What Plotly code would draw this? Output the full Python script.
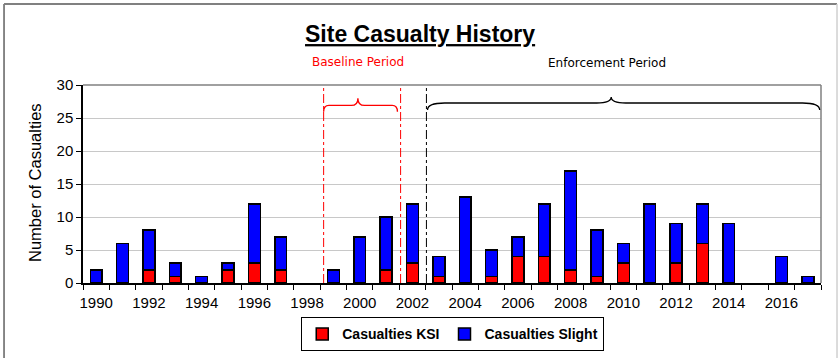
import plotly.graph_objects as go

# Casualty counts per year
years = list(range(1990, 2018))
ksi = [0, 0, 2, 1, 0, 2, 3, 2, 0, 0, 0, 2, 3, 1, 0, 1, 4, 4, 2, 1, 3, 0, 3, 6, 0, 0, 0, 0]
slight = [2, 6, 6, 2, 1, 1, 9, 5, 0, 2, 7, 8, 9, 3, 13, 4, 3, 8, 15, 7, 3, 12, 6, 6, 9, 0, 4, 1]
tick_years = list(range(1990, 2017, 2))
y_ticks = [0, 5, 10, 15, 20, 25, 30]

# Period markers (year positions on the x axis)
baseline_start = 1998.63
baseline_end = 2001.55
enforcement_start = 2002.53

ARIAL = "Liberation Sans, Arial, sans-serif"
VERD = "DejaVu Sans, Verdana, sans-serif"

series = [("Casualties KSI", ksi, "#FF0000"), ("Casualties Slight", slight, "#0000FF")]

fig = go.Figure()
for name, vals, color in series:
    # no outline on empty segments so they leave no stub on the axis
    widths = [1.5 if v > 0 else 0 for v in vals]
    fig.add_trace(go.Bar(
        x=years, y=vals, name=name, width=0.45, showlegend=False, legendgroup=name,
        marker=dict(color=color, line=dict(color="black", width=widths)),
    ))
for name, vals, color in series:
    # legend entries with outlined swatches
    fig.add_trace(go.Bar(
        x=[None], y=[None], name=name, legendgroup=name, showlegend=True,
        marker=dict(color=color, line=dict(color="black", width=1.5)),
    ))


def brace(x0, x1, xm, y_line, y_peak, y_end, r, r2):
    return (f"M {x0},{y_end} Q {x0},{y_line} {x0 + r},{y_line} "
            f"L {xm - r2},{y_line} Q {xm},{y_line} {xm},{y_peak} "
            f"Q {xm},{y_line} {xm + r2},{y_line} "
            f"L {x1 - r},{y_line} Q {x1},{y_line} {x1},{y_end}")


shapes = [
    # plot area border (top and right)
    dict(type="line", xref="paper", yref="paper", x0=0, x1=1, y0=1, y1=1,
         line=dict(color="#808080", width=1.5)),
    dict(type="line", xref="paper", yref="paper", x0=1, x1=1, y0=0, y1=1,
         line=dict(color="#808080", width=1.5)),
    # period separators
    dict(type="line", xref="x", yref="y", x0=baseline_start, x1=baseline_start, y0=0, y1=30,
         line=dict(color="#FF0000", width=1, dash="dashdot")),
    dict(type="line", xref="x", yref="y", x0=baseline_end, x1=baseline_end, y0=0, y1=30,
         line=dict(color="#FF0000", width=1, dash="dashdot")),
    dict(type="line", xref="x", yref="y", x0=enforcement_start, x1=enforcement_start, y0=0, y1=30,
         line=dict(color="black", width=1, dash="dashdot")),
    # braces
    dict(type="path", xref="x", yref="y",
         path=brace(baseline_start, 2001.43, 1999.93, 26.9, 28.0, 25.95, 0.2, 0.25),
         line=dict(color="#FF0000", width=1.3)),
    dict(type="path", xref="x", yref="y",
         path=brace(2002.57, 2017.45, 2009.54, 27.27, 28.18, 26.2, 0.65, 0.55),
         line=dict(color="black", width=1.3)),
    # chart frame
    dict(type="line", xref="paper", yref="paper", x0=-0.107, x1=-0.107, y0=-0.45, y1=1.409,
         line=dict(color="#606060", width=1.5)),
    dict(type="line", xref="paper", yref="paper", x0=-0.107, x1=1.0217, y0=1.409, y1=1.409,
         line=dict(color="#808080", width=2)),
    dict(type="line", xref="paper", yref="paper", x0=1.0217, x1=1.0217, y0=-0.45, y1=1.409,
         line=dict(color="#D0D0D0", width=1.5)),
]

annotations = [
    dict(text="Baseline Period", x=1999.93, xref="x", y=1.116, yref="paper",
         xanchor="center", yanchor="middle",
         showarrow=False, font=dict(family=VERD, size=12, color="#FF0000")),
    dict(text="Enforcement Period", x=2009.39, xref="x", y=1.111, yref="paper",
         xanchor="center", yanchor="middle",
         showarrow=False, font=dict(family=VERD, size=12, color="black")),
    dict(text="Number of Casualties", x=-0.065, xref="paper", y=0.505, yref="paper",
         xanchor="center", yanchor="middle",
         textangle=-90, showarrow=False, font=dict(family=ARIAL, size=16.5, color="black")),
]

fig.update_layout(
    width=838, height=358,
    margin=dict(l=83, r=17, t=85, b=75, autoexpand=False),
    barmode="stack",
    paper_bgcolor="white", plot_bgcolor="white",
    title=dict(text="<b><u>Site Casualty History</u></b>", x=0.5013, xref="container",
               y=1 - 34 / 358, yref="container", xanchor="center", yanchor="middle",
               font=dict(family=ARIAL, size=23, color="black")),
    xaxis=dict(
        range=[1989.5, 2017.5], tickmode="array", tickvals=tick_years,
        ticks="outside", ticklen=5, tickcolor="rgba(0,0,0,0)",
        showline=True, linecolor="black", linewidth=1.5, showgrid=False, zeroline=False,
        tickfont=dict(family=ARIAL, size=15, color="black"),
        minor=dict(tickmode="array", tickvals=[y - 0.5 for y in years] + [2017.5],
                   ticks="outside", ticklen=5, tickcolor="black", tickwidth=1, showgrid=False),
    ),
    yaxis=dict(
        range=[0, 30], tickmode="array", tickvals=y_ticks,
        ticks="outside", ticklen=5, tickcolor="black",
        showline=True, linecolor="black", linewidth=1.5,
        showgrid=True, gridcolor="#C8C8C8", gridwidth=1, zeroline=False,
        tickfont=dict(family=ARIAL, size=15, color="black"),
    ),
    legend=dict(orientation="h", x=0.501, xanchor="center", y=-0.345, yanchor="bottom",
                bordercolor="black", borderwidth=1, bgcolor="white",
                font=dict(family=ARIAL, size=14, color="black", weight="bold"),
                itemwidth=30, traceorder="normal", tracegroupgap=0),
    shapes=shapes,
    annotations=annotations,
    bargap=0.5,
)

fig.write_html("out.html")
